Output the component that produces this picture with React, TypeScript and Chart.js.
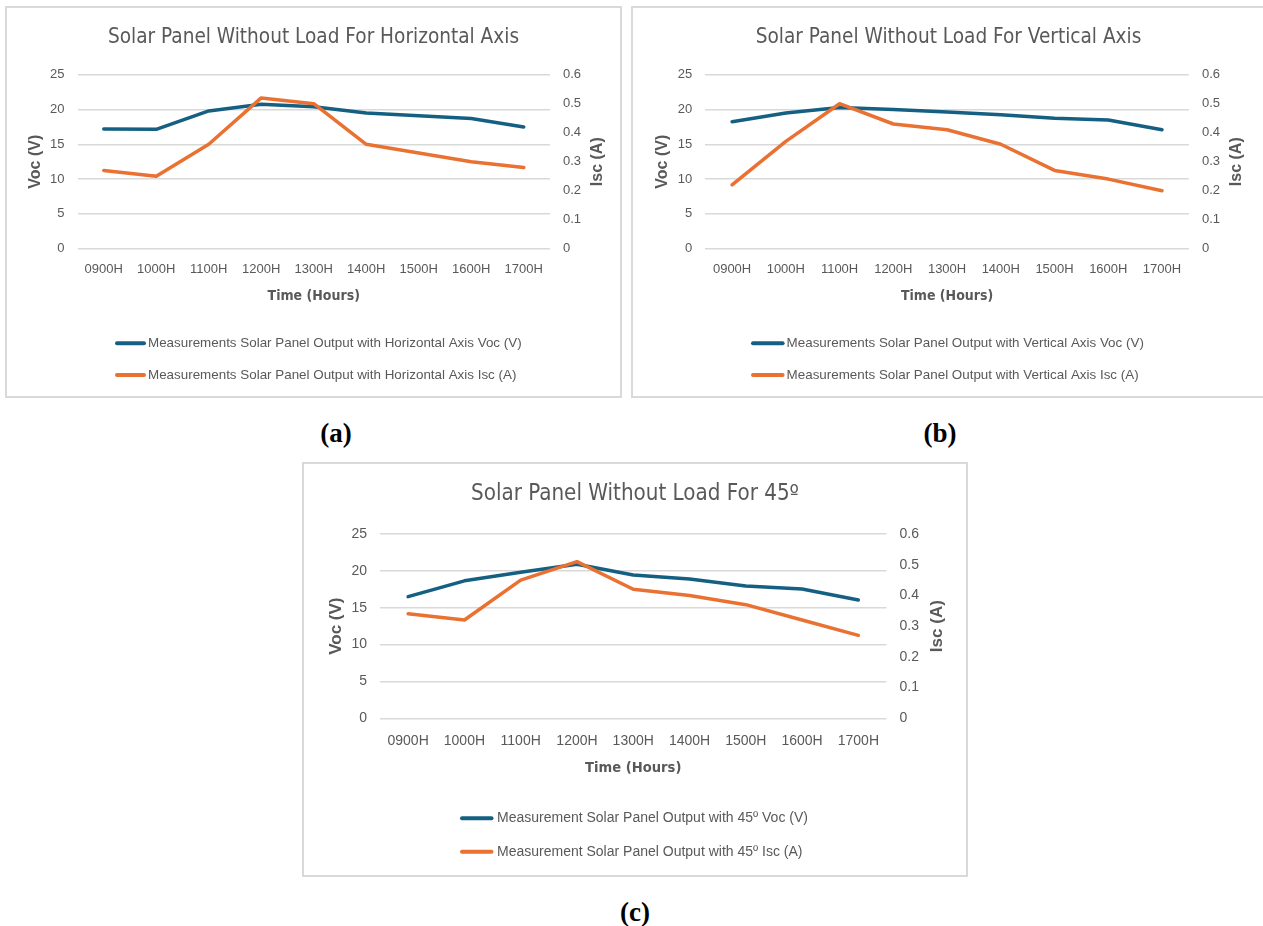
import React, { useEffect, useRef } from 'react';
import { Chart, registerables } from 'chart.js';

Chart.register(...registerables);

// ---------- data ----------
const hours = ['0900H', '1000H', '1100H', '1200H', '1300H', '1400H', '1500H', '1600H', '1700H'];
const vocTicks = [0, 5, 10, 15, 20, 25];
const iscTicks = [0, 0.1, 0.2, 0.3, 0.4, 0.5, 0.6];

const vocHorizontal = [17.2, 17.15, 19.8, 20.75, 20.4, 19.5, 19.1, 18.7, 17.5];
const iscHorizontal = [0.27, 0.25, 0.36, 0.52, 0.5, 0.36, 0.33, 0.3, 0.28];

const vocVertical = [18.25, 19.5, 20.3, 20.0, 19.65, 19.25, 18.75, 18.5, 17.1];
const iscVertical = [0.22, 0.37, 0.5, 0.43, 0.41, 0.36, 0.27, 0.24, 0.2];

const voc45 = [16.5, 18.65, 19.8, 20.9, 19.45, 18.9, 17.95, 17.55, 16.05];
const isc45 = [0.34, 0.32, 0.45, 0.51, 0.42, 0.4, 0.37, 0.32, 0.27];

const titleHorizontal = 'Solar Panel Without Load For Horizontal Axis';
const titleVertical = 'Solar Panel Without Load For Vertical Axis';
const title45 = 'Solar Panel Without Load For 45º';

const legendHorizontal = [
  'Measurements Solar Panel Output with Horizontal Axis Voc (V)',
  'Measurements Solar Panel Output with Horizontal Axis Isc (A)',
];
const legendVertical = [
  'Measurements Solar Panel Output with Vertical Axis Voc (V)',
  'Measurements Solar Panel Output with Vertical Axis Isc (A)',
];
const legend45 = [
  'Measurement Solar Panel Output with 45º Voc (V)',
  'Measurement Solar Panel Output with 45º Isc (A)',
];

const xAxisTitle = 'Time (Hours)';
const vocAxisTitle = 'Voc (V)';
const iscAxisTitle = 'Isc (A)';

// ---------- styles ----------
const BLUE = '#156082';
const ORANGE = '#E97132';
const GREY = '#595959';
const GRID = '#d9d9d9';
const SANS = "'Liberation Sans', Arial, sans-serif";
const NARROW = "'DejaVu Sans Condensed', 'Liberation Sans Narrow', 'Liberation Sans', sans-serif";

type Geo = {
  title: string; legend: string[]; voc: number[]; isc: number[];
  w: number; h: number;
  plotLeft: number; plotRight: number; plotTop: number; plotBottom: number;
  titleY: number; tickGap: number; xTitleY: number; vocX: number; iscX: number;
  lx0: number; lx1: number; tx: number; ly: number[];
  fTick: number; fTitle: number; fAxis: number; fXTitle: number; fLegend: number;
};

function buildConfig(g: Geo): any {
  const tLh = g.fTitle * 1.2;
  const tickLh = g.fTick * 1.2;
  const axLh = g.fAxis * 1.2;
  const xLh = g.fXTitle * 1.2;

  const overlay = {
    id: 'overlay',
    afterDraw(chart: any) {
      const ctx = chart.ctx;
      const area = chart.chartArea;
      ctx.save();
      // right axis title, reading bottom-to-top
      ctx.translate(g.iscX, (area.top + area.bottom) / 2);
      ctx.rotate(-Math.PI / 2);
      ctx.fillStyle = GREY;
      ctx.font = `bold ${g.fAxis}px ${SANS}`;
      ctx.textAlign = 'center';
      ctx.textBaseline = 'middle';
      ctx.fillText(iscAxisTitle, 0, 0);
      ctx.restore();

      // legend
      ctx.save();
      chart.data.datasets.forEach((ds: any, i: number) => {
        const y = g.ly[i];
        ctx.strokeStyle = ds.borderColor;
        ctx.lineWidth = 4;
        ctx.lineCap = 'round';
        ctx.beginPath();
        ctx.moveTo(g.lx0 + 2, y);
        ctx.lineTo(g.lx1 - 2, y);
        ctx.stroke();
        ctx.fillStyle = GREY;
        ctx.font = `${g.fLegend}px ${SANS}`;
        ctx.textAlign = 'left';
        ctx.textBaseline = 'middle';
        ctx.fillText(ds.label, g.tx, y);
      });
      ctx.restore();
    },
  };

  return {
    type: 'line',
    data: {
      labels: hours,
      datasets: [
        {
          label: g.legend[0], data: g.voc, yAxisID: 'yV', order: 1,
          borderColor: BLUE, backgroundColor: BLUE, borderWidth: 3.5,
          pointRadius: 0, tension: 0, borderCapStyle: 'round', borderJoinStyle: 'round',
        },
        {
          label: g.legend[1], data: g.isc, yAxisID: 'yI', order: 0,
          borderColor: ORANGE, backgroundColor: ORANGE, borderWidth: 3.5,
          pointRadius: 0, tension: 0, borderCapStyle: 'round', borderJoinStyle: 'round',
        },
      ],
    },
    options: {
      responsive: false,
      animation: false,
      events: [],
      layout: { padding: 0 },
      plugins: {
        legend: { display: false },
        tooltip: { enabled: false },
        title: {
          display: true,
          text: g.title,
          color: GREY,
          font: { family: NARROW, size: g.fTitle, weight: 'normal', lineHeight: 1.2 },
          padding: { top: g.titleY - tLh / 2, bottom: g.plotTop - g.titleY - tLh / 2 },
        },
      },
      scales: {
        x: {
          type: 'category',
          offset: true,
          grid: { display: false, drawTicks: false },
          border: { display: false },
          ticks: {
            color: GREY, font: { family: SANS, size: g.fTick },
            padding: g.tickGap - tickLh / 2, maxRotation: 0, autoSkip: false,
          },
          title: {
            display: true, text: xAxisTitle, color: GREY,
            font: { family: NARROW, size: g.fXTitle, weight: 'bold' },
            padding: { top: 0, bottom: g.h - g.xTitleY - xLh / 2 },
          },
          afterFit: (s: any) => { s.height = g.h - g.plotBottom; },
        },
        yV: {
          position: 'left', min: 0, max: 25,
          afterBuildTicks: (s: any) => { s.ticks = vocTicks.map((v) => ({ value: v })); },
          grid: { color: GRID, lineWidth: 1.5, drawTicks: false },
          border: { display: false },
          ticks: { color: GREY, font: { family: SANS, size: g.fTick }, padding: 13 },
          title: {
            display: true, text: vocAxisTitle, color: GREY,
            font: { family: SANS, size: g.fAxis, weight: 'bold' },
            padding: { top: g.vocX - axLh / 2, bottom: 0 },
          },
          afterFit: (s: any) => { s.width = g.plotLeft; },
        },
        yI: {
          position: 'right', min: 0, max: 0.6,
          afterBuildTicks: (s: any) => { s.ticks = iscTicks.map((v) => ({ value: v })); },
          grid: { display: false, drawTicks: false },
          border: { display: false },
          ticks: {
            color: GREY, font: { family: SANS, size: g.fTick }, padding: 13,
            callback: (v: any) => (v === 0 ? '0' : String(Math.round(v * 10) / 10)),
          },
          afterFit: (s: any) => { s.width = g.w - g.plotRight; },
        },
      },
    },
    plugins: [overlay],
  };
}

function LineChart({ g }: { g: Geo }) {
  const ref = useRef<HTMLCanvasElement | null>(null);
  useEffect(() => {
    if (!ref.current) return;
    const chart = new Chart(ref.current, buildConfig(g));
    return () => chart.destroy();
  }, []);
  return <canvas ref={ref} width={g.w} height={g.h} style={{ display: 'block' }} />;
}

const geoA: Geo = {
  title: titleHorizontal, legend: legendHorizontal, voc: vocHorizontal, isc: iscHorizontal,
  w: 613, h: 388, plotLeft: 70.5, plotRight: 543, plotTop: 66.7, plotBottom: 240.7,
  titleY: 29.3, tickGap: 20.6, xTitleY: 288, vocX: 28.5, iscX: 590.7,
  lx0: 108, lx1: 139, tx: 141, ly: [335.3, 367],
  fTick: 13, fTitle: 20.6, fAxis: 16, fXTitle: 14, fLegend: 13.4,
};
const geoB: Geo = {
  title: titleVertical, legend: legendVertical, voc: vocVertical, isc: iscVertical,
  w: 631, h: 388, plotLeft: 72.2, plotRight: 555.9, plotTop: 66.7, plotBottom: 240.7,
  titleY: 29.3, tickGap: 20.6, xTitleY: 288, vocX: 30, iscX: 603.8,
  lx0: 118, lx1: 151.6, tx: 153.6, ly: [335.3, 367],
  fTick: 13, fTitle: 20.6, fAxis: 16, fXTitle: 14, fLegend: 13.4,
};
const geoC: Geo = {
  title: title45, legend: legend45, voc: voc45, isc: isc45,
  w: 662, h: 411, plotLeft: 76, plotRight: 582.5, plotTop: 70, plotBottom: 254.3,
  titleY: 30.3, tickGap: 22.4, xTitleY: 304.3, vocX: 32, iscX: 633.7,
  lx0: 156, lx1: 189.5, tx: 193, ly: [354.3, 387.7],
  fTick: 14, fTitle: 22.2, fAxis: 17, fXTitle: 14.6, fLegend: 14,
};

const boxStyle = (left: number, top: number, width: number, height: number): React.CSSProperties => ({
  position: 'absolute', left, top, width, height, boxSizing: 'border-box',
  border: `2px solid ${GRID}`, background: '#fff', overflow: 'hidden',
});

const captionStyle = (cx: number, cy: number): React.CSSProperties => ({
  position: 'absolute', left: cx - 50, top: cy - 18, width: 100, height: 36,
  lineHeight: '36px', textAlign: 'center', fontFamily: "'Liberation Serif', 'DejaVu Serif', serif",
  fontWeight: 'bold', fontSize: 27, color: '#000',
});

export default function App() {
  return (
    <div style={{ position: 'absolute', left: 0, top: 0, width: 1263, height: 926, overflow: 'hidden', background: '#fff' }}>
      <div style={boxStyle(5, 6, 617, 392)}><LineChart g={geoA} /></div>
      <div style={boxStyle(631, 6, 640, 392)}><LineChart g={geoB} /></div>
      <div style={boxStyle(302, 462, 666, 415)}><LineChart g={geoC} /></div>
      <div style={captionStyle(336, 433)}>(a)</div>
      <div style={captionStyle(940, 433)}>(b)</div>
      <div style={captionStyle(635, 912)}>(c)</div>
    </div>
  );
}
